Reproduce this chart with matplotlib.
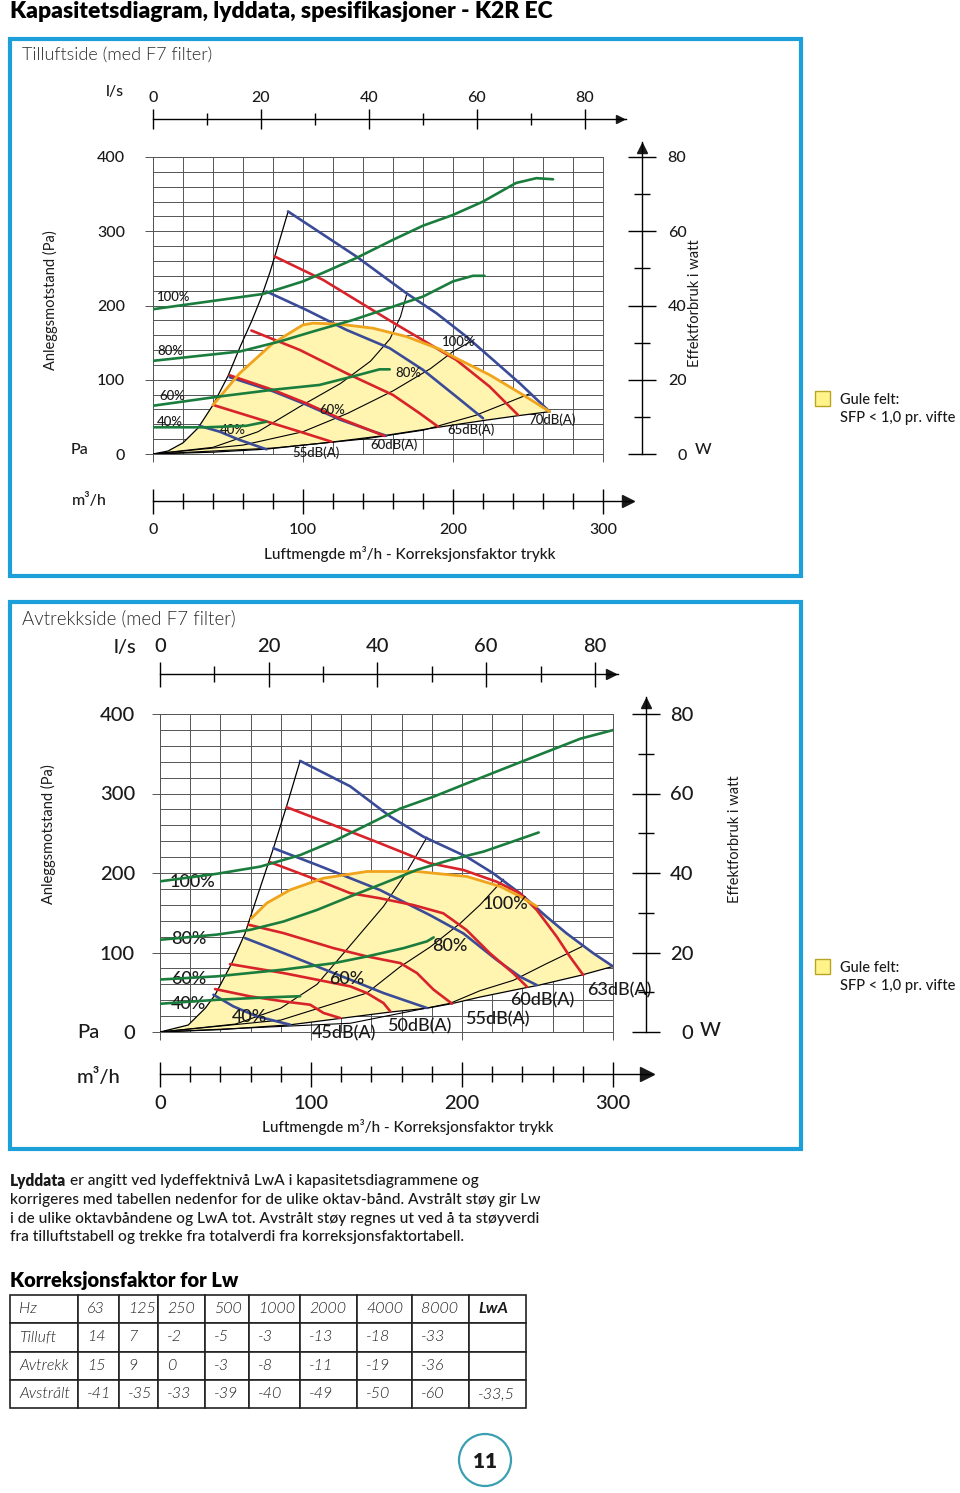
import matplotlib
matplotlib.use('Agg')
import matplotlib.pyplot as plt
import numpy as np
from matplotlib.patches import Rectangle, Circle

plt.rcParams['font.family'] = ['Lato', 'DejaVu Sans']

# ---------------- DATA: Tilluftside (top chart) ----------------
# x in m3/h, p in Pa, w in W
T_boundary_x = [0, 10, 20, 30, 40, 50, 58, 66, 72, 78, 84, 90]
T_boundary_p = [0, 4, 15, 35, 66, 105, 144, 180, 210, 245, 285, 326]
T_sys_x = [[0, 40, 70, 98, 125, 145, 158, 165, 169],
           [0, 60, 100, 130, 160, 185, 200, 214],
           [0, 80, 140, 180, 215, 251]]
T_sys_p = [[0, 9, 30, 64, 95, 125, 155, 185, 214],
           [0, 12, 30, 55, 85, 115, 138, 154],
           [0, 8, 20, 32, 52, 81]]
T_base_x = [0, 40, 75, 119, 155, 190, 220, 243, 264.4]
T_base_p = [0, 2.5, 6.5, 16, 25, 36, 45, 51.5, 57]
T_sfp_x = [40, 57.8, 80, 100, 106.7, 124.4, 146.7, 168.9, 191.1, 202.2, 213.3, 224.4, 235.6, 246.7, 264.4]
T_sfp_p = [66.1, 108.8, 149.2, 173.9, 176.2, 174.9, 169.4, 158.2, 141.2, 129, 117.8, 106.6, 93.1, 79.6, 57.1]
T_fan_x = [[90, 135.6, 168.9, 188.9, 208.9, 226.7, 244.4, 264.4],
           [75.6, 102.2, 128.9, 157.8, 180, 202.2, 220],
           [51.1, 80, 102.2, 124.4, 146.7, 155.6],
           [31.1, 44.4, 57.8, 75.6]]
T_fan_p = [[326.7, 266, 216.6, 189.7, 158.2, 126.8, 95.4, 57.1],
           [218.9, 194.1, 167.2, 142.5, 113.3, 77.3, 48.1],
           [103.5, 84.5, 66.5, 46.5, 30.5, 24.5],
           [37.8, 30.1, 18.9, 6.3]]
T_db_x = [[81.1, 113.3, 160, 202.2, 224.4, 243.3],
          [65.6, 97.8, 128.9, 160, 177.8, 190],
          [51.1, 80, 102.2, 124.4, 154.4],
          [40, 68.9, 97.8, 118.9]]
T_db_p = [[266, 234.6, 177.1, 126.7, 90.8, 52.6],
          [166.3, 140.2, 108.8, 79.5, 54.8, 36.9],
          [106, 86.3, 68.3, 48.1, 24.3],
          [66.1, 48.1, 30.1, 16.6]]
T_pow_x = [[0, 73.3, 100, 115.6, 135.6, 160, 180, 200, 220, 242, 255.6, 266.7],
           [0, 57.8, 84.4, 106.7, 133.3, 160, 180, 200, 213.3, 221],
           [0, 44.4, 80, 111, 133.3, 151, 157.8],
           [0, 35.6, 62.2, 75.6]]
T_pow_w = [[39, 43.1, 46.5, 49.2, 52.8, 57.7, 61.5, 64.4, 68, 73, 74.3, 74],
           [25.1, 27.6, 30.3, 33, 36.1, 39.7, 42.4, 46.5, 48, 48],
           [13, 15.5, 17.3, 18.6, 20.9, 22.8, 22.8],
           [7.2, 7.2, 7.6, 8.7]]
T_labels = [('100%', 2.7, 211, 'left'), ('80%', 2.7, 138.7, 'left'),
            ('60%', 4.5, 78, 'left'), ('40%', 2.7, 43, 'left'),
            ('40%', 53.3, 32.3, 'center'), ('60%', 119.3, 59.3, 'center'),
            ('80%', 170, 109, 'center'), ('100%', 204, 150.8, 'center'),
            ('55dB(A)', 108.7, 1.3, 'center'), ('60dB(A)', 160.7, 12.1, 'center'),
            ('65dB(A)', 212, 32.3, 'center'), ('70dB(A)', 266, 45.8, 'center')]

# ---------------- DATA: Avtrekkside (bottom chart) ----------------
A_boundary_x = [0, 18.7, 30, 36.4, 47.5, 56.3, 62.9, 71.7, 75.1, 84, 92.8]
A_boundary_p = [0, 8.8, 30, 46.5, 86.4, 124, 162, 212, 231, 285, 341]
A_sys_x = [[0, 50, 80, 104, 122, 148, 163, 176.8],
           [0, 80, 137, 159, 179, 199, 212, 227.5],
           [0, 126, 192, 212, 234, 256, 279.5]]
A_sys_p = [[0, 10, 30, 60, 100, 158, 200, 245],
           [0, 15, 49, 82, 107, 137, 160, 192],
           [0, 11, 36, 52, 65, 86, 107.5]]
A_base_x = [0, 40, 86, 119, 152, 177, 193, 212, 243, 250, 278, 300]
A_base_p = [0, 3, 9, 17, 25, 30, 35.6, 44, 56, 58.5, 71, 82.5]
A_sfp_x = [60.5, 70.7, 86.2, 108.3, 137, 170.2, 203.3, 225.4, 238.7, 249.7]
A_sfp_p = [143, 162.1, 178.8, 193.5, 201.9, 201.9, 195.6, 183, 170.4, 157.9]
A_fan_x = [[92.8, 126, 152.5, 174.4, 203, 220.7, 238.4, 256, 269.3, 287, 300],
           [75.1, 103.9, 126, 145.7, 162, 178.8, 200.9, 223, 238.4, 249.5],
           [56.4, 81.8, 103.9, 126, 148, 176.8],
           [35.4, 48.6, 64.1, 86.2]]
A_fan_p = [[341, 309, 271, 245.7, 220.5, 199.6, 174.5, 145, 124, 99, 82.5],
           [231.2, 210.2, 193.5, 178.6, 163, 147, 124, 90.6, 69.6, 59],
           [118.1, 99.3, 82.5, 65.8, 49, 30.2],
           [46.9, 32.2, 19.7, 9.2]]
A_db_x = [[84, 126, 145.7, 178.8, 200.9, 223, 238.4, 249.5, 262.7, 271.5, 280.3],
          [72.9, 103.9, 126, 145.7, 167.7, 187.6, 203, 218.5, 234, 243],
          [58.6, 81.8, 114.9, 137, 159.1, 170.2, 181.2, 193.4],
          [46.4, 81.8, 103.9, 126, 137, 148, 152.5],
          [36.5, 59.7, 81.8, 99.5, 108.3, 119.3]]
A_db_p = [[282.7, 252.1, 237.4, 212.2, 203.8, 189, 174.5, 153.5, 120, 94.7, 71.7],
          [213.6, 191.4, 174.6, 168.2, 159.7, 149.3, 128.3, 99, 73.8, 57],
          [134.9, 124.4, 105.5, 95.1, 86.7, 74.1, 53.2, 35.6],
          [85.4, 74.1, 65.8, 57.4, 49, 36.4, 26],
          [54, 44.8, 38.5, 34.3, 23.9, 17.6]]
A_pow_x = [[0, 37.6, 66.3, 92.8, 116.7, 136.6, 159, 181.2, 205.5, 225.4, 247.5, 278.5, 300.5],
           [0, 37.6, 59.7, 81.8, 103.9, 126, 148, 170.2, 192.3, 214.4, 236.5, 250.8],
           [0, 37.6, 81.8, 114.9, 137, 161.3, 176.8, 181.2],
           [0, 37.6, 70.7, 92.8]]
A_pow_w = [[37.9, 39.8, 41.6, 44.5, 48.3, 52, 56.2, 59.2, 62.9, 65.9, 69.2, 73.8, 76],
           [23.2, 24.5, 25.7, 27.8, 30.7, 34.1, 37.4, 40.8, 43.3, 45.4, 48.3, 50.2],
           [13.2, 14, 15.7, 17.3, 19, 21.1, 22.8, 23.8],
           [7.1, 8.1, 8.7, 9]]
A_labels = [('100%', 6.6, 189, 'left'), ('80%', 7.5, 116.6, 'left'),
            ('60%', 7.5, 66.3, 'left'), ('40%', 7.5, 35.2, 'left'),
            ('40%', 59.6, 19.3, 'center'), ('60%', 123.6, 66.3, 'center'),
            ('80%', 191.6, 108.2, 'center'), ('100%', 229, 161, 'center'),
            ('45dB(A)', 121.9, -1.7, 'center'), ('50dB(A)', 172, 6.7, 'center'),
            ('55dB(A)', 223.6, 16, 'center'), ('60dB(A)', 253.4, 40.3, 'center'),
            ('63dB(A)', 304.3, 52.8, 'center')]

# axis scales
LS_TICKS = [0, 20, 40, 60, 80]
LS_MINOR = [10, 30, 50, 70]
M3H_TICKS = [0, 100, 200, 300]
M3H_MINOR = list(range(0, 301, 20))
PA_TICKS = [0, 100, 200, 300, 400]
W_TICKS = [0, 20, 40, 60, 80]
W_MINOR = [10, 30, 50, 70]

# table
TAB_HEAD = ['Hz', '63', '125', '250', '500', '1000', '2000', '4000', '8000', 'LwA']
TAB_ROWS = [['Tilluft', '14', '7', '-2', '-5', '-3', '-13', '-18', '-33', ''],
            ['Avtrekk', '15', '9', '0', '-3', '-8', '-11', '-19', '-36', ''],
            ['Avstrålt', '-41', '-35', '-33', '-39', '-40', '-49', '-50', '-60', '-33,5']]

# ---------------- STYLE ----------------
C_GREEN = '#1b7d3d'
C_RED = '#d8232a'
C_BLUE = '#3a4b98'
C_ORANGE = '#f0a31c'
C_YELLOW = '#fff4b0'
C_GRID = '#555555'
C_FRAME = '#1d9fda'
C_TXT = '#1a1a1a'
NUMW = 'medium'

W, H = 960, 1493
fig = plt.figure(figsize=(9.6, 14.93), dpi=100)


def box(x0, y0, x1, y1):
    return [x0 / W, 1 - y1 / H, (x1 - x0) / W, (y1 - y0) / H]


pg = fig.add_axes([0, 0, 1, 1])
pg.set_xlim(0, W)
pg.set_ylim(H, 0)
pg.axis('off')


def arrow_marker(ax, x, y, m, ms):
    ax.plot([x], [y], marker=m, ms=ms, color=C_TXT, clip_on=False, mec=C_TXT)


def set_w(labels, w):
    for lb in labels:
        lb.set_fontweight(w)


def draw_chart(g, bx, bp, sx, sp, basex, basep, sfx, sfp, fx, fp, dx, dp, px_, pw, labels):
    x0, y0, x1, y1 = g['grid']
    ax = fig.add_axes(box(x0, y0, x1, y1))
    ax.set_xlim(0, 300)
    ax.set_ylim(0, 400)
    ax.set_xticks(M3H_TICKS)
    ax.set_xticks(M3H_MINOR, minor=True)
    ax.set_yticks(PA_TICKS)
    ax.set_yticks(range(0, 401, 20), minor=True)
    ax.grid(which='both', color=C_GRID, lw=0.7)
    ax.set_axisbelow(True)
    ax.tick_params(axis='x', which='major', length=6, width=0.7, color=C_GRID, labelbottom=False)
    ax.tick_params(axis='x', which='minor', length=0)
    ax.tick_params(axis='y', which='major', length=6, width=0.7, color=C_GRID,
                   pad=g['ypad'], labelsize=g['fs'], labelcolor=C_TXT)
    ax.tick_params(axis='y', which='minor', length=0)
    set_w(ax.get_yticklabels(), NUMW)
    for s in ax.spines.values():
        s.set_color(C_GRID)
        s.set_linewidth(0.7)

    # yellow SFP region: boundary -> sfp curve -> (fan 100% tail) -> base line back
    bx_a = np.array(bx); bp_a = np.array(bp)
    keep = bx_a < sfx[0]
    polx = list(bx_a[keep]) + list(sfx)
    poly = list(bp_a[keep]) + list(sfp)
    f0x = np.array(fx[0]); f0p = np.array(fp[0])
    tail = f0x > sfx[-1] + 0.5
    polx += list(f0x[tail]); poly += list(f0p[tail])
    polx += list(basex[::-1]); poly += list(basep[::-1])
    ax.fill(polx, poly, color=C_YELLOW, lw=0, zorder=1)

    ax.plot(bx, bp, color='black', lw=0.9, zorder=3)
    for xx, yy in zip(sx, sp):
        ax.plot(xx, yy, color='black', lw=0.8, zorder=3)
    ax.plot(basex, basep, color='black', lw=0.9, zorder=3)
    for xx, yy in zip(fx, fp):
        ax.plot(xx, yy, color=C_BLUE, lw=1.9, zorder=4, solid_capstyle='round')
    for xx, yy in zip(dx, dp):
        ax.plot(xx, yy, color=C_RED, lw=1.9, zorder=5, solid_capstyle='round')
    ax.plot(sfx, sfp, color=C_ORANGE, lw=2.0, zorder=6, solid_capstyle='round')

    for t, xx, yy, ha in labels:
        ax.text(xx, yy, t, ha=ha, va='center', fontsize=g['lfs'], color=C_TXT, zorder=9,
                fontweight=NUMW)

    # power curves on watt scale
    axg = ax.twinx()
    axg.set_ylim(0, 80)
    axg.axis('off')
    for xx, ww in zip(px_, pw):
        axg.plot(xx, ww, color=C_GREEN, lw=1.9, zorder=7, solid_capstyle='round')

    # l/s scale
    lx_end = g['ls_end']
    ly = g['ls_y']
    axl = fig.add_axes(box(x0, ly - 1, lx_end, ly))
    lmax = (lx_end - x0) / (x1 - x0) * 300 / 3.6
    axl.set_xlim(0, lmax)
    axl.set_ylim(0, 1)
    axl.patch.set_alpha(0)
    for k in ['bottom', 'left', 'right']:
        axl.spines[k].set_visible(False)
    axl.spines['top'].set_linewidth(1.0)
    axl.yaxis.set_visible(False)
    axl.xaxis.tick_top()
    axl.set_xticks(LS_TICKS)
    axl.set_xticks(LS_MINOR, minor=True)
    axl.tick_params(axis='x', which='major', direction='inout', length=g['lsmaj'], width=1.0,
                    labelsize=g['fs'], pad=g['lspad'], labelcolor=C_TXT)
    axl.tick_params(axis='x', which='minor', direction='inout', length=g['lsmin'], width=1.0)
    set_w(axl.get_xticklabels(), NUMW)
    arrow_marker(axl, lmax - g['lsarr_off'], 1, '>', g['lsarr'])

    # m3/h scale
    mx_end = g['m_end']
    my = g['m_y']
    axm = fig.add_axes(box(x0, my, mx_end, my + 1))
    mmax = (mx_end - x0) / (x1 - x0) * 300
    axm.set_xlim(0, mmax)
    axm.set_ylim(0, 1)
    axm.patch.set_alpha(0)
    for k in ['top', 'left', 'right']:
        axm.spines[k].set_visible(False)
    axm.spines['bottom'].set_linewidth(1.0)
    axm.yaxis.set_visible(False)
    axm.set_xticks(M3H_TICKS)
    axm.set_xticks(M3H_MINOR, minor=True)
    axm.tick_params(axis='x', which='major', direction='inout', length=g['mmaj'], width=1.0,
                    labelsize=g['fs'], pad=g['mpad'], labelcolor=C_TXT)
    axm.tick_params(axis='x', which='minor', direction='inout', length=g['mmin'], width=1.0)
    set_w(axm.get_xticklabels(), NUMW)
    arrow_marker(axm, mmax - g['marr_off'], 0, '>', g['marr'])

    # watt scale
    wx = g['w_x']
    wtop = g['w_top']
    axw = fig.add_axes(box(wx - 1, wtop, wx, y1))
    wmax = (y1 - wtop) * 80 / (y1 - y0)
    axw.set_ylim(0, wmax)
    axw.set_xlim(0, 1)
    axw.patch.set_alpha(0)
    for k in ['top', 'left', 'bottom']:
        axw.spines[k].set_visible(False)
    axw.spines['right'].set_linewidth(1.0)
    axw.xaxis.set_visible(False)
    axw.yaxis.tick_right()
    axw.set_yticks(W_TICKS)
    axw.set_yticks(W_MINOR, minor=True)
    axw.tick_params(axis='y', which='major', direction='inout', length=g['wmaj'], width=1.0,
                    labelsize=g['fs'], pad=g['wpad'], labelcolor=C_TXT)
    axw.tick_params(axis='y', which='minor', direction='inout', length=g['wmin'], width=1.0)
    for lb in axw.get_yticklabels():
        lb.set_ha('right')
        lb.set_fontweight(NUMW)
    arrow_marker(axw, 1, wmax - g['warr_off'], '^', g['warr'])
    return ax


G_TOP = dict(grid=(153, 157, 603, 454), fs=11.5, lfs=9.5, ypad=14,
             ls_end=626, ls_y=120, lsmaj=14, lsmin=9, lspad=3, lsarr=6, lsarr_off=1.2,
             m_end=632, m_y=500, mmaj=18, mmin=12, mpad=7, marr=9, marr_off=3,
             w_x=642, w_top=142, wmaj=20, wmin=11, wpad=22, warr=7, warr_off=1.5)
G_BOT = dict(grid=(160, 714, 613, 1032), fs=14.5, lfs=13, ypad=12,
             ls_end=618, ls_y=675, lsmaj=18, lsmin=11, lspad=5, lsarr=7, lsarr_off=1.2,
             m_end=652, m_y=1073, mmaj=18, mmin=12, mpad=6, marr=10, marr_off=3.5,
             w_x=646, w_top=697, wmaj=20, wmin=11, wpad=24, warr=7, warr_off=1.5)

draw_chart(G_TOP, T_boundary_x, T_boundary_p, T_sys_x, T_sys_p, T_base_x, T_base_p,
           T_sfp_x, T_sfp_p, T_fan_x, T_fan_p, T_db_x, T_db_p, T_pow_x, T_pow_w, T_labels)
draw_chart(G_BOT, A_boundary_x, A_boundary_p, A_sys_x, A_sys_p, A_base_x, A_base_p,
           A_sfp_x, A_sfp_p, A_fan_x, A_fan_p, A_db_x, A_db_p, A_pow_x, A_pow_w, A_labels)

# ---------------- page texts & frames ----------------
pg.text(10, 11, 'Kapasitetsdiagram, lyddata, spesifikasjoner - K2R EC', fontsize=16.5,
        fontweight='heavy', va='center', ha='left', color='black')
pg.add_patch(Rectangle((10, 39), 791, 537, fill=False, ec=C_FRAME, lw=3))
pg.add_patch(Rectangle((10, 602), 791, 547, fill=False, ec=C_FRAME, lw=3))

pg.text(22, 55, 'Tilluftside (med F7 filter)', fontsize=13, fontweight=300, va='center', color='#2a2a2a')
pg.text(22, 619, 'Avtrekkside (med F7 filter)', fontsize=13.5, fontweight=300, va='center', color='#2a2a2a')

# top chart extra labels
pg.text(115, 92, 'l/s', fontsize=11.5, ha='center', va='center', color=C_TXT, fontweight=NUMW)
pg.text(80, 450, 'Pa', fontsize=11.5, ha='center', va='center', color=C_TXT, fontweight=NUMW)
pg.text(703, 450, 'W', fontsize=11.5, ha='center', va='center', color=C_TXT, fontweight=NUMW)
pg.text(89, 500, 'm³/h', fontsize=11.5, ha='center', va='center', color=C_TXT, fontweight=NUMW)
pg.text(50, 300, 'Anleggsmotstand (Pa)', fontsize=10.5, rotation=90, ha='center', va='center', color=C_TXT)
pg.text(695, 303, 'Effektforbruk i watt', fontsize=10.5, rotation=90, ha='center', va='center', color=C_TXT)
pg.text(410, 554, 'Luftmengde m³/h - Korreksjonsfaktor trykk', fontsize=11, ha='center', va='center',
        color=C_TXT, fontweight=NUMW)

# bottom chart extra labels
pg.text(125, 648, 'l/s', fontsize=14.5, ha='center', va='center', color=C_TXT, fontweight=NUMW)
pg.text(88, 1033, 'Pa', fontsize=14.5, ha='center', va='center', color=C_TXT, fontweight=NUMW)
pg.text(710, 1031, 'W', fontsize=14.5, ha='center', va='center', color=C_TXT, fontweight=NUMW)
pg.text(98, 1077, 'm³/h', fontsize=14.5, ha='center', va='center', color=C_TXT, fontweight=NUMW)
pg.text(48, 834, 'Anleggsmotstand (Pa)', fontsize=10.5, rotation=90, ha='center', va='center', color=C_TXT)
pg.text(735, 839, 'Effektforbruk i watt', fontsize=10.5, rotation=90, ha='center', va='center', color=C_TXT)
pg.text(408, 1127, 'Luftmengde m³/h - Korreksjonsfaktor trykk', fontsize=11, ha='center', va='center',
        color=C_TXT, fontweight=NUMW)

# legends
for ly_ in (399, 967):
    pg.add_patch(Rectangle((815, ly_ - 8), 15, 15, fc='#fff38a', ec='#b9a520', lw=1))
    pg.text(840, ly_ + 1, 'Gule felt:', fontsize=10.5, va='center', color=C_TXT, fontweight=NUMW)
    pg.text(840, ly_ + 19, 'SFP < 1,0 pr. vifte', fontsize=10.5, va='center', color=C_TXT, fontweight=NUMW)

# body text
fig.canvas.draw()
r = fig.canvas.get_renderer()
t0 = pg.text(10, 1181, 'Lyddata', fontsize=11.2, fontweight='heavy', va='center', color=C_TXT)
bb = t0.get_window_extent(renderer=r)
pg.text(10 + bb.width + 4, 1181, 'er angitt ved lydeffektnivå LwA i kapasitetsdiagrammene og',
        fontsize=11.2, va='center', color=C_TXT, fontweight=NUMW)
body = ['korrigeres med tabellen nedenfor for de ulike oktav-bånd. Avstrålt støy gir Lw',
        'i de ulike oktavbåndene og LwA tot. Avstrålt støy regnes ut ved å ta støyverdi',
        'fra tilluftstabell og trekke fra totalverdi fra korreksjonsfaktortabell.']
for i, line in enumerate(body):
    pg.text(10, 1200 + i * 18.7, line, fontsize=11.2, va='center', color=C_TXT, fontweight=NUMW)

pg.text(10, 1280, 'Korreksjonsfaktor for Lw', fontsize=14.5, fontweight='heavy', va='center', color='black')

# table
col_edges = [10, 78, 119, 158, 205, 249, 300, 357, 412, 469, 526]
col_w = np.diff(col_edges)
axt = fig.add_axes(box(10, 1295, 526, 1408))
axt.axis('off')
tab = axt.table(cellText=[TAB_HEAD] + TAB_ROWS, colWidths=list(col_w / col_w.sum()),
                cellLoc='left', bbox=[0, 0, 1, 1])
tab.auto_set_font_size(False)
for (ri, ci), cell in tab.get_celld().items():
    cell.set_edgecolor('#222222')
    cell.set_linewidth(1.2)
    cell.PAD = 9.0 / col_w[ci]
    txt = cell.get_text()
    txt.set_fontsize(11.5)
    txt.set_fontstyle('italic')
    txt.set_fontweight(300)
    txt.set_color('#222222')
    if ri == 0 and ci == 9:
        txt.set_fontweight('bold')
        txt.set_color(C_TXT)

# page number
pg.add_patch(Circle((485, 1460), 26, fill=False, ec='#3a9fb2', lw=1.6))
pg.text(485, 1461, '11', fontsize=15, fontweight='heavy', ha='center', va='center', color=C_TXT)

fig.savefig('out.png', dpi=100)
